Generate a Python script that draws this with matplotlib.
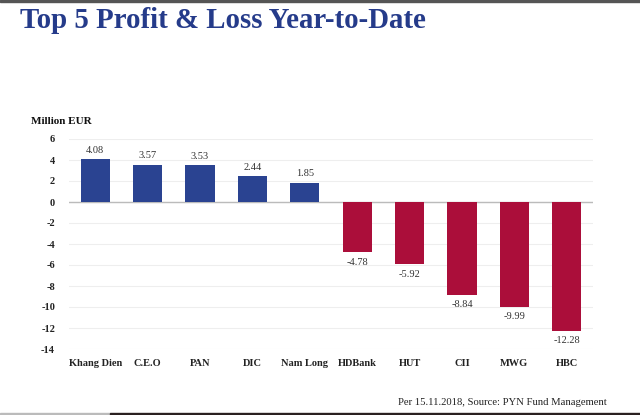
import matplotlib.pyplot as plt
import matplotlib.patches as patches

# data
companies = ['Khang Dien', 'C.E.O', 'PAN', 'DIC', 'Nam Long',
             'HDBank', 'HUT', 'CII', 'MWG', 'HBC']
pnl = [4.08, 3.57, 3.53, 2.44, 1.85, -4.78, -5.92, -8.84, -9.99, -12.28]
yticks = [6, 4, 2, 0, -2, -4, -6, -8, -10, -12, -14]

BLUE = '#2a4391'
RED = '#ab0e3a'
TITLE_BLUE = '#253b8a'
SERIF = ['Liberation Serif', 'DejaVu Serif']

plt.rcParams['font.family'] = SERIF

fig = plt.figure(figsize=(6.4, 4.15), dpi=100)
ax = fig.add_axes([69 / 640, 1 - 349 / 415, 524 / 640, 210 / 415])

colors = [BLUE if v >= 0 else RED for v in pnl]
x = range(len(companies))
bars = ax.bar(x, pnl, width=0.56, color=colors, zorder=3)

for b, v in zip(bars, pnl):
    cx = b.get_x() + b.get_width() / 2
    if v >= 0:
        ax.annotate(f'{v:.2f}', (cx, v), xytext=(0, 3), textcoords='offset points',
                    ha='center', va='bottom', fontsize=7.5, color='#333333')
    else:
        ax.annotate(f'{v:.2f}', (cx, v), xytext=(0, -4), textcoords='offset points',
                    ha='center', va='top', fontsize=7.5, color='#333333')

ax.set_xlim(-0.5, len(companies) - 0.5)
ax.set_ylim(-14, 6)
ax.set_yticks(yticks)
ax.set_yticklabels([str(t) for t in yticks])
ax.set_xticks(list(x))
ax.set_xticklabels(companies)
ax.tick_params(axis='both', length=0, labelsize=7.5, labelcolor='#222222')
ax.tick_params(axis='x', pad=7)
ax.tick_params(axis='y', pad=10)
for lbl in ax.get_xticklabels() + ax.get_yticklabels():
    lbl.set_fontweight('bold')

ax.grid(axis='y', color='#eeeeee', linewidth=0.8, zorder=0)
ax.axhline(0, color='#bbbbbb', linewidth=1.0, zorder=2)
for s in ax.spines.values():
    s.set_visible(False)

fig.text(20 / 640, 1 - 21 / 415, 'Top 5 Profit & Loss Year-to-Date',
         fontsize=20.8, fontweight='bold', color=TITLE_BLUE, va='center', ha='left')
fig.text(31 / 640, 1 - 121 / 415, 'Million EUR', fontsize=8, fontweight='bold',
         color='#111111', va='center', ha='left')
fig.text(607 / 640, 1 - 402 / 415, 'Per 15.11.2018, Source: PYN Fund Management',
         fontsize=7.7, color='#222222', va='center', ha='right')

# frame strips at top and bottom of the screenshot
fig.patches.append(patches.Rectangle((0, 1 - 2.5 / 415), 1, 2.5 / 415,
                                     transform=fig.transFigure, color='#555555'))
fig.patches.append(patches.Rectangle((0, 0), 110 / 640, 2.5 / 415,
                                     transform=fig.transFigure, color='#bbbbbb'))
fig.patches.append(patches.Rectangle((110 / 640, 0), 1 - 110 / 640, 2.5 / 415,
                                     transform=fig.transFigure, color='#2a2020'))

fig.savefig('out.png', dpi=100)
